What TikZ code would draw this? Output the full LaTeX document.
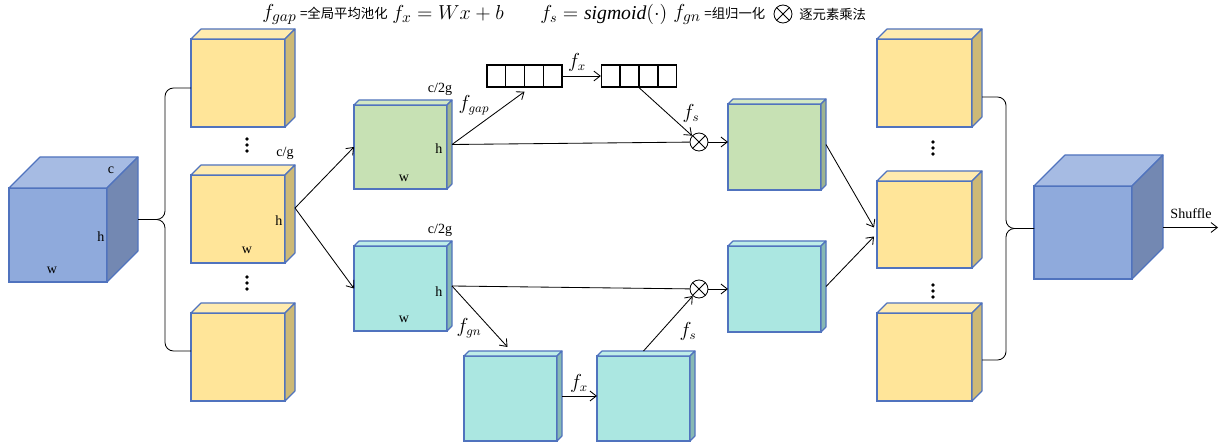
\documentclass[tikz,border=0pt]{standalone}
\usepackage{fontspec}
\setmainfont{Liberation Serif}
\newfontfamily\cjk{Noto Sans CJK SC}
\usetikzlibrary{positioning,calc}
\usetikzlibrary{arrows.meta}
\definecolor{CubeLine}{RGB}{80,115,190}
\definecolor{BlueF}{RGB}{143,170,220}
\definecolor{BlueT}{RGB}{166,187,227}
\definecolor{BlueS}{RGB}{115,136,178}
\definecolor{GoldF}{RGB}{255,229,153}
\definecolor{GoldT}{RGB}{255,235,175}
\definecolor{GoldS}{RGB}{205,185,118}
\definecolor{LeafF}{RGB}{199,225,180}
\definecolor{LeafT}{RGB}{210,232,196}
\definecolor{LeafS}{RGB}{158,180,144}
\definecolor{AquaF}{RGB}{171,231,225}
\definecolor{AquaT}{RGB}{190,237,232}
\definecolor{AquaS}{RGB}{135,185,180}
\tikzset{
	face/.style={draw=CubeLine,line width=0.8pt,outer sep=0pt,inner sep=0pt,anchor=north west},
	lbl/.style={font=\fontsize{10}{12}\selectfont,inner sep=0pt},
	fn/.style={font=\fontsize{13.5}{15}\selectfont,inner sep=0pt},
	legend/.style={font=\fontsize{15}{17}\selectfont,inner sep=0pt,anchor=west},
	link/.style={draw=black,line width=0.6pt},
	arr/.style={link,-{Straight Barb[length=4.5pt,width=7pt]}},
	vec/.style={draw=black,line width=0.9pt,minimum width=1.875cm,minimum height=0.55cm,inner sep=0pt},
	mult/.style={circle,draw=black,line width=0.6pt,minimum size=0.45cm,inner sep=0pt,
		path picture={\draw[line width=0.6pt] (path picture bounding box.north west) -- (path picture bounding box.south east)
			(path picture bounding box.north east) -- (path picture bounding box.south west);}},
}
\newcommand{\cuboid}[7]{%
	\node[face,fill=#7F,minimum width=#4*0.025cm,minimum height=#5*0.025cm] (#1) at (#2,#3) {};
	\filldraw[fill=#7T,draw=CubeLine,line width=0.8pt,line join=round] (#1.north west) -- ++(#6,-#6) -- ++(#4,0) -- (#1.north east) -- cycle;
	\filldraw[fill=#7S,draw=CubeLine,line width=0.8pt,line join=round] (#1.north east) -- ++(#6,-#6) -- ++(0,#5) -- (#1.south east) -- cycle;
	\coordinate (#1-r) at ($(#1.east)+(#6,-#6/2)$);
}
\newcommand{\vdotsat}[3]{%
	\coordinate (#1) at (#2,#3);
	\foreach \k in {-6,0,6}
		\fill ($(#1)+(0,\k)$) circle[radius=1.3pt];
}

\begin{document}
\begin{tikzpicture}[x=0.025cm,y=-0.025cm]
	\useasboundingbox (0,0) rectangle (1223,445);
	\node[legend] (lgap) at (262,14) {$f_{gap}$\,{\cjk\fontsize{9.5}{11}\selectfont =全局平均池化}};
	\node[legend] (lfx) at (392,14) {$f_x = Wx + b$};
	\node[legend,font=\fontsize{14}{16}\selectfont] (lfs) at (540,14) {$f_s = \mathit{sigmoid}(\cdot)$};
	\node[legend] (lgn) at (673,14) {$f_{gn}$\,{\cjk\fontsize{9.5}{11}\selectfont =组归一化}};
	\node[mult] (lmul) at (783,14) {};
	\node[legend] (lmuls) at (799,14) {\cjk\fontsize{9.5}{11}\selectfont 逐元素乘法};

	\cuboid{inp}{9}{188}{98}{94}{31}{Blue}
	\cuboid{ga}{191}{39}{94}{88}{10}{Gold}
	\cuboid{gb}{191}{175}{94}{88}{10}{Gold}
	\cuboid{gc}{191}{313}{94}{88}{10}{Gold}
	\cuboid{lf}{354}{105}{93}{84}{5}{Leaf}
	\cuboid{la}{354}{246}{93}{85}{5}{Aqua}
	\cuboid{na}{464}{356}{93}{85}{5}{Aqua}
	\cuboid{nb}{597}{356}{93}{85}{5}{Aqua}
	\cuboid{rf}{728}{104}{93}{86}{5}{Leaf}
	\cuboid{ra}{728}{246}{93}{86}{5}{Aqua}
	\cuboid{ha}{877}{39}{95}{88}{10}{Gold}
	\cuboid{hb}{877}{181}{95}{87}{10}{Gold}
	\cuboid{hc}{877}{313}{95}{88}{10}{Gold}
	\cuboid{outp}{1034}{186}{98}{93}{31}{Blue}

	\node[lbl] (inc) at (111,170) {c};
	\node[lbl] (inh) at (101,237) {h};
	\node[lbl] (inw) at (52,270) {w};
	\node[lbl] (gbc) at (285,153) {c/g};
	\node[lbl] (gbh) at (279,221) {h};
	\node[lbl] (gbw) at (247,250) {w};
	\node[lbl] (lfc) at (440,89) {c/2g};
	\node[lbl] (lfh) at (439,149) {h};
	\node[lbl] (lfw) at (404,178) {w};
	\node[lbl] (lac) at (440,230) {c/2g};
	\node[lbl] (lah) at (439,292) {h};
	\node[lbl] (law) at (404,319) {w};
	\vdotsat{dga}{247}{145}
	\vdotsat{dgb}{247}{283}
	\vdotsat{dha}{933}{148}
	\vdotsat{dhb}{933}{291}

	\node[vec] (v1) at (524.5,76) {};
	\node[vec] (v2) at (639,76) {};
	\foreach \v in {v1,v2}
		\foreach \k in {1,2,3}
			\draw[line width=0.9pt] ($(\v.north west)!\k/4!(\v.north east)$) -- ($(\v.south west)!\k/4!(\v.south east)$);
	\node[mult] (m1) at (699,142) {};
	\node[mult] (m2) at (699,289) {};

	\draw[link,rounded corners=6pt] (inp-r) -| ($(ga.west)+(-26,5)$) -- ($(ga.west)+(0,5)$);
	\draw[link,rounded corners=6pt] (inp-r) -| ($(gc.west)+(-26,-6)$) -- ($(gc.west)+(0,-6)$);
	\draw[arr] ($(gb-r)+(0,-6)$) -- (lf.west);
	\draw[arr] ($(gb-r)+(0,-6)$) -- (la.west);

	\draw[link] (lf-r) -- (m1);
	\draw[arr] (lf-r) -- ($(v1.south)+(0,4)$);
	\node[fn] (fgap) at (474,105) {$f_{gap}$};
	\draw[arr] (v1.east) -- (v2.west);
	\node[fn] (fx1) at (577,62) {$f_x$};
	\draw[arr] (v2.south) -- (m1);
	\node[fn] (fs1) at (691,113) {$f_s$};
	\draw[arr] (m1) -- (m1 -| rf.west);

	\draw[link] (la-r) -- (m2);
	\draw[arr] (la-r) -- ($(na.north)+(-3,-9)$);
	\node[fn] (fgn) at (469,328) {$f_{gn}$};
	\draw[arr] (na-r) -- (na-r -| nb.west);
	\node[fn] (fx2) at (579,383) {$f_x$};
	\draw[arr] ($(nb.north)+(0,-5)$) -- (m2);
	\node[fn] (fs2) at (688,331) {$f_s$};
	\draw[arr] (m2) -- (m2 -| ra.west);

	\draw[arr] (rf-r) -- ($(hb.west)+(-3,3)$);
	\draw[arr] (ra-r) -- ($(hb.west)+(-3,12)$);

	\draw[link,rounded corners=6pt] ($(ha.east)+(10,14)$) -| ($(outp.west)+(-28,-4)$) -- ($(outp.west)+(0,-4)$);
	\draw[link,rounded corners=6pt] ($(hc.east)+(10,3)$) -| ($(outp.west)+(-28,-4)$) -- ($(outp.west)+(0,-4)$);
	\coordinate (shuf) at ($(outp.east)+(86,-5)$);
	\draw[arr] ($(outp.east)+(31,-5)$) -- (shuf);
	\node[lbl] (shl) at (1191,214) {Shuffle};
\end{tikzpicture}
\end{document}
